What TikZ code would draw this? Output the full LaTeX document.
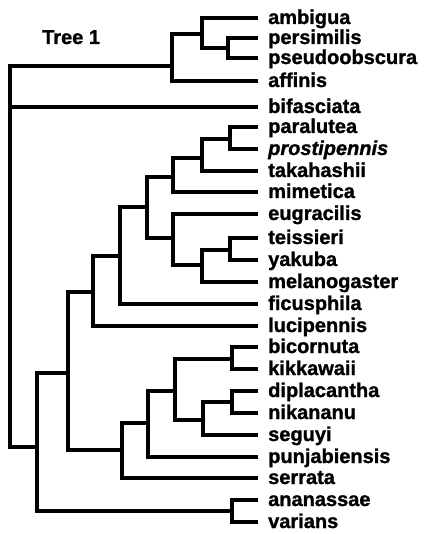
\documentclass[tikz,border=0pt]{standalone}
\usepackage{fontspec}
\setmainfont[BoldFeatures={FakeBold=1.2},BoldItalicFeatures={FakeBold=1.2}]{Liberation Sans}
\usetikzlibrary{positioning}

\begin{document}
\begin{tikzpicture}[x=1pt,y=-1pt,
  branch/.style={line width=4.3pt,line cap=rect,line join=miter},
  taxon/.style={anchor=west,inner xsep=12pt,inner ysep=0pt,text height=16pt,text depth=4pt,
    font=\fontsize{20}{22}\selectfont\bfseries}]
\useasboundingbox (0,0) rectangle (428,534);

\node[anchor=base west,inner sep=0pt,font=\fontsize{20}{22}\selectfont\bfseries] (titel) at (42,44) {Tree 1};

%====================================================
% TAXA
%====================================================
\node[taxon] (amb) at (256,18)  {ambigua};
\node[taxon] (per) at (256,38)  {persimilis};
\node[taxon] (pse) at (256,58)  {pseudoobscura};
\node[taxon] (aff) at (256,81)  {affinis};
\node[taxon] (bif) at (256,107) {bifasciata};
\node[taxon] (par) at (256,127) {paralutea};
\node[taxon] (pro) at (256,149) {\itshape prostipennis};
\node[taxon] (tak) at (256,171) {takahashii};
\node[taxon] (mim) at (256,192) {mimetica};
\node[taxon] (eug) at (256,214) {eugracilis};
\node[taxon] (tei) at (256,238) {teissieri};
\node[taxon] (yak) at (256,260) {yakuba};
\node[taxon] (mel) at (256,282) {melanogaster};
\node[taxon] (fic) at (256,304) {ficusphila};
\node[taxon] (luc) at (256,326) {lucipennis};
\node[taxon] (bic) at (256,347) {bicornuta};
\node[taxon] (kik) at (256,369) {kikkawaii};
\node[taxon] (dip) at (256,391) {diplacantha};
\node[taxon] (nik) at (256,413) {nikananu};
\node[taxon] (seg) at (256,435) {seguyi};
\node[taxon] (pun) at (256,457) {punjabiensis};
\node[taxon] (ser) at (256,478) {serrata};
\node[taxon] (ana) at (256,500) {ananassae};
\node[taxon] (var) at (256,522) {varians};

%====================================================
% INTERNE KNOTEN
%====================================================
\coordinate (root) at (10,66);
\coordinate (obs)  at (172,66);
\coordinate (aps)  at (202,34);
\coordinate (ps)   at (228,48);
\coordinate (ne)   at (37,447);
\coordinate (av)   at (232,511);
\coordinate (nd)   at (68,373);
\coordinate (nl)   at (93,292);
\coordinate (nf)   at (120,256);
\coordinate (melg) at (147,207);
\coordinate (pptm) at (173,177);
\coordinate (ppt)  at (202,158);
\coordinate (pp)   at (230,139);
\coordinate (etym) at (173,238);
\coordinate (tym)  at (202,265);
\coordinate (ty)   at (230,250);
\coordinate (nc)   at (122,450);
\coordinate (nb)   at (148,423);
\coordinate (na)   at (175,391);
\coordinate (bk)   at (232,359);
\coordinate (dns)  at (203,420);
\coordinate (dn)   at (232,402);

%====================================================
% AESTE
%====================================================
\foreach \p/\c in {root/obs,root/bif,root/ne,
  obs/aps,obs/aff,aps/amb,aps/ps,ps/per,ps/pse,
  ne/nd,ne/av,av/ana,av/var,
  nd/nl,nd/nc,nl/nf,nl/luc,nf/melg,nf/fic,
  melg/pptm,melg/etym,pptm/ppt,pptm/mim,ppt/pp,ppt/tak,pp/par,pp/pro,
  etym/eug,etym/tym,tym/ty,tym/mel,ty/tei,ty/yak,
  nc/nb,nc/ser,nb/na,nb/pun,na/bk,na/dns,bk/bic,bk/kik,dns/dn,dns/seg,dn/dip,dn/nik}
  \draw[branch] (\p) |- (\c);
\end{tikzpicture}
\end{document}
